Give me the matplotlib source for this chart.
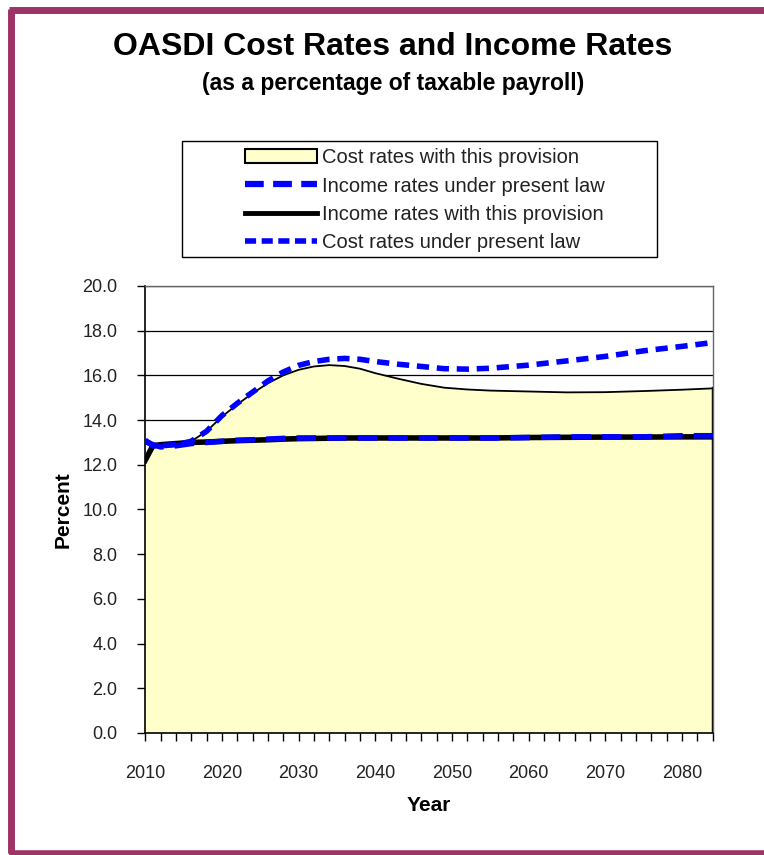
import matplotlib
matplotlib.use("Agg")
import matplotlib.pyplot as plt
from matplotlib.lines import Line2D
from matplotlib.patches import Patch, Rectangle
from matplotlib.ticker import MultipleLocator, FormatStrFormatter

plt.rcParams['font.family'] = ['Liberation Sans', 'DejaVu Sans']

years = [2010, 2011, 2012, 2014, 2016, 2018, 2020, 2022, 2024, 2026, 2028,
         2030, 2032, 2034, 2036, 2038, 2040, 2043, 2046, 2049, 2052, 2055,
         2060, 2065, 2070, 2075, 2080, 2084]

cost_provision = [12.2, 12.8, 12.85, 12.9, 13.05, 13.5, 14.15, 14.7, 15.2, 15.65, 16.0,
                  16.25, 16.4, 16.46, 16.42, 16.3, 16.1, 15.85, 15.62, 15.45, 15.37, 15.32,
                  15.28, 15.24, 15.25, 15.3, 15.36, 15.42]

cost_present = [13.1, 12.85, 12.85, 12.9, 13.05, 13.5, 14.2, 14.75, 15.25, 15.75, 16.15,
                16.45, 16.62, 16.72, 16.76, 16.72, 16.62, 16.5, 16.4, 16.3, 16.28, 16.32,
                16.46, 16.65, 16.85, 17.1, 17.3, 17.47]

income_present = [13.05, 12.9, 12.8, 12.85, 12.95, 13.0, 13.05, 13.1, 13.12, 13.15, 13.18,
                  13.2, 13.2, 13.2, 13.2, 13.2, 13.2, 13.2, 13.2, 13.2, 13.2, 13.2,
                  13.22, 13.25, 13.25, 13.25, 13.3, 13.3]

income_provision = [12.2, 12.85, 12.9, 12.95, 13.0, 13.02, 13.05, 13.08, 13.1, 13.12, 13.15,
                    13.17, 13.18, 13.19, 13.2, 13.2, 13.2, 13.2, 13.2, 13.2, 13.2, 13.2,
                    13.22, 13.23, 13.24, 13.24, 13.25, 13.25]

frame_color = '#9E3366'
fill_color = '#FFFFCC'

fig = plt.figure(figsize=(7.64, 8.55), dpi=100)
ax = fig.add_axes([0.19, 0.1427, 0.743, 0.5228])

# grid under the filled area
ax.set_axisbelow(True)
ax.yaxis.grid(True, color='black', linewidth=0.9, zorder=0)

ax.fill_between(years, 0, cost_provision, facecolor=fill_color, edgecolor='none', zorder=1)
ax.plot(years, cost_provision, color='black', linewidth=1.3, zorder=2)
ax.plot([years[-1], years[-1]], [0, cost_provision[-1]], color='black', linewidth=2.5, zorder=2)

ax.plot(years, income_provision, color='black', linewidth=4, zorder=3)
ax.plot(years, income_present, color='blue', linewidth=4, dashes=(3.5, 2), zorder=4)
ax.plot(years, cost_present, color='blue', linewidth=4, dashes=(2.2, 1.4), zorder=4)

ax.set_xlim(2010, 2084)
ax.set_ylim(0, 20)
ax.xaxis.set_major_locator(MultipleLocator(10))
ax.xaxis.set_minor_locator(MultipleLocator(2))
ax.yaxis.set_major_locator(MultipleLocator(2))
ax.yaxis.set_major_formatter(FormatStrFormatter('%.1f'))
ax.tick_params(axis='both', which='both', direction='out', length=6, width=1,
               labelsize=13, colors='black', labelcolor='#222222')
ax.tick_params(axis='x', which='major', pad=17)
ax.tick_params(axis='y', pad=14)

for s in ['left', 'bottom']:
    ax.spines[s].set_color('black')
    ax.spines[s].set_linewidth(1.2)
for s in ['top', 'right']:
    ax.spines[s].set_color('#666666')
    ax.spines[s].set_linewidth(1)

ax.set_xlabel('Year', fontsize=15, fontweight='bold', labelpad=10)
ax.set_ylabel('Percent', fontsize=15, fontweight='bold', labelpad=7)

fig.text(0.514, 0.945, 'OASDI Cost Rates and Income Rates', ha='center', va='center',
         fontsize=23, fontweight='bold')
fig.text(0.514, 0.902, '(as a percentage of taxable payroll)', ha='center', va='center',
         fontsize=16.5, fontweight='bold')

handles = [
    Patch(facecolor=fill_color, edgecolor='black', linewidth=1.5),
    Line2D([], [], color='blue', linewidth=4.5, dashes=(3, 1.5)),
    Line2D([], [], color='black', linewidth=3.5),
    Line2D([], [], color='blue', linewidth=4, dashes=(2, 1)),
]
labels = ['Cost rates with this provision', 'Income rates under present law',
          'Income rates with this provision', 'Cost rates under present law']

# legend box drawn separately so it can be wider than its contents
fig.add_artist(Rectangle((182 / 764, 1 - 257 / 855), 475 / 764, 116 / 855,
                         transform=fig.transFigure, facecolor='white',
                         edgecolor='black', linewidth=1))
leg = fig.legend(handles, labels, loc='center', bbox_to_anchor=(0.556, 0.766),
                 fontsize=14.5, frameon=False, handlelength=3.6, handletextpad=0.25,
                 borderpad=0.2, labelspacing=0.45, borderaxespad=0)
for t in leg.get_texts():
    t.set_color('#222222')

# border around the slide
fig.add_artist(Line2D([0.0145, 0.0145], [0.0025, 0.99], color=frame_color, linewidth=5,
                      transform=fig.transFigure, solid_capstyle='butt'))
fig.add_artist(Line2D([0.0115, 1.0], [0.9885, 0.9885], color=frame_color, linewidth=5,
                      transform=fig.transFigure, solid_capstyle='butt'))
fig.add_artist(Line2D([0.0115, 1.0], [0.0025, 0.0025], color=frame_color, linewidth=4,
                      transform=fig.transFigure, solid_capstyle='butt'))

fig.savefig('out.png', dpi=100)
